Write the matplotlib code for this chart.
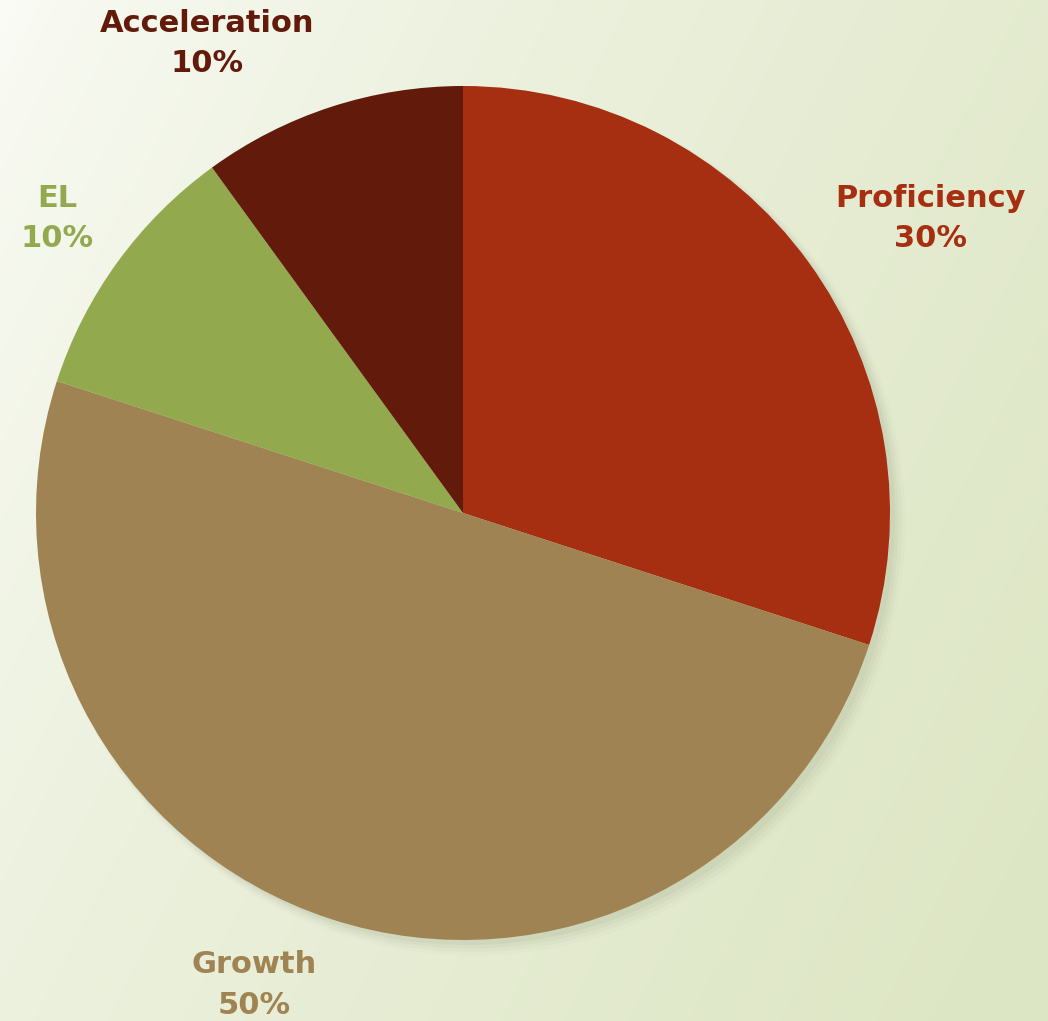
import numpy as np
import matplotlib.pyplot as plt

# --- Data ---
categories = ["Proficiency", "Growth", "EL", "Acceleration"]
shares = [30, 50, 10, 10]
colors = ["#a52f10", "#a08352", "#93a94e", "#621a0b"]

# label anchor points (pie data units, radius = 1)
label_pos = [(1.095, 0.69), (-0.49, -1.105), (-0.95, 0.69), (-0.60, 1.10)]

W, H = 1048, 1021
fig = plt.figure(figsize=(W / 100, H / 100), dpi=100)

# --- Background gradient ---
bg = fig.add_axes([0, 0, 1, 1])
gx, gy = np.meshgrid(np.linspace(0, 1, 300), np.linspace(0, 1, 300))
t = np.clip(0.7 * gx + 0.35 * gy, 0, 1) ** 0.7
c0 = np.array([251, 252, 247]) / 255
c1 = np.array([221, 230, 196]) / 255
img = c0[None, None, :] * (1 - t[..., None]) + c1[None, None, :] * t[..., None]
bg.imshow(img, extent=[0, 1, 0, 1], aspect="auto", origin="upper")
bg.axis("off")

# --- Pie ---
cx, cy, r = 463, 513, 427
ax = fig.add_axes([(cx - r) / W, 1 - (cy + r) / H, 2 * r / W, 2 * r / H])

# soft shadow
for k, a in enumerate([0.05, 0.04, 0.03, 0.02]):
    sh = plt.Circle((0.012 + k * 0.004, -0.012 - k * 0.004), 1.0 + k * 0.004,
                    color="#556040", alpha=a, lw=0, zorder=0, clip_on=False)
    ax.add_patch(sh)

ax.pie(shares, colors=colors, startangle=90, counterclock=False, radius=1.0,
       wedgeprops=dict(linewidth=0), frame=True)
ax.set_xlim(-1, 1)
ax.set_ylim(-1, 1)
ax.axis("off")

for name, val, col, (lx, ly) in zip(categories, shares, colors, label_pos):
    ax.text(lx, ly, f"{name}\n{val}%", ha="center", va="center", color=col,
            fontsize=22, fontweight="bold", family="DejaVu Sans",
            linespacing=1.5, clip_on=False)

fig.savefig("out.png", dpi=100)
